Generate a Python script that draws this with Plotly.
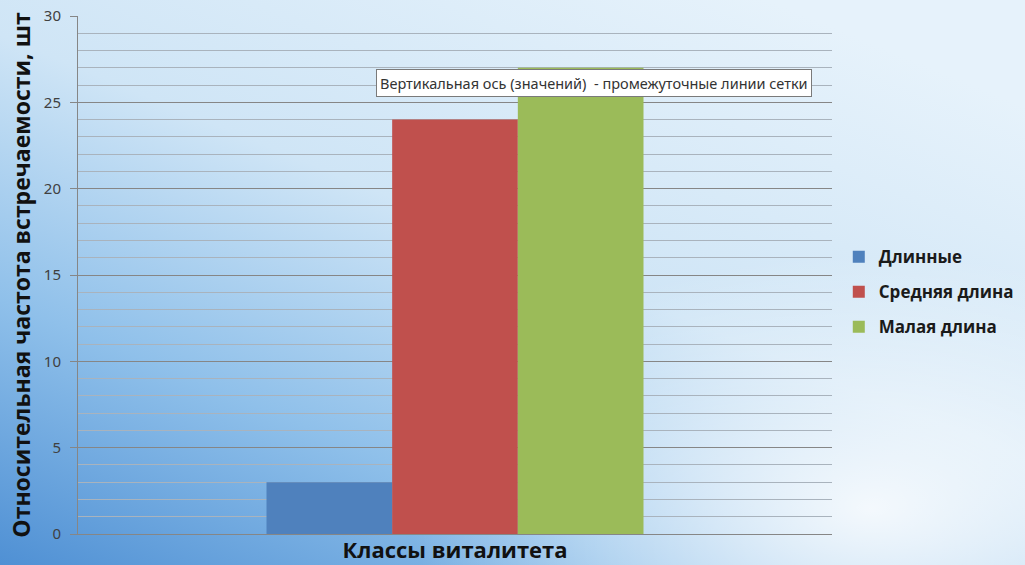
import base64
import plotly.graph_objects as go

categories = ["Классы виталитета"]
series_names = ["Длинные", "Средняя длина", "Малая длина"]
series_values = [[3], [24], [27]]
series_colors = ["#4f81bd", "#c0504d", "#9bbb59"]
y_tick_values = [0, 5, 10, 15, 20, 25, 30]

W, H = 1025, 565

svg = f'''<svg xmlns="http://www.w3.org/2000/svg" width="{W}" height="{H}" viewBox="0 0 {W} {H}">
<defs>
<linearGradient id="g" x1="0" y1="1" x2="0.75" y2="0">
<stop offset="0" stop-color="#4f90d4"/>
<stop offset="0.3" stop-color="#8fc0ea"/>
<stop offset="0.6" stop-color="#cfe5f6"/>
<stop offset="1" stop-color="#e6f2fb"/>
</linearGradient>
<radialGradient id="r" cx="0.85" cy="0.9" r="0.45">
<stop offset="0" stop-color="#ffffff" stop-opacity="0.85"/>
<stop offset="1" stop-color="#ffffff" stop-opacity="0"/>
</radialGradient>
</defs>
<rect width="{W}" height="{H}" fill="url(#g)"/>
<rect width="{W}" height="{H}" fill="url(#r)"/>
</svg>'''
bg_uri = "data:image/svg+xml;base64," + base64.b64encode(svg.encode()).decode()

fig = go.Figure()
for i, (name, vals, col) in enumerate(zip(series_names, series_values, series_colors)):
    fig.add_trace(go.Bar(
        x=categories, y=vals, name=name, marker=dict(color=col, line=dict(width=0)),
        legendgroup=f"g{i}",
    ))

fig.update_layout(
    width=W, height=H,
    margin=dict(l=78, r=193, t=16, b=31, autoexpand=False),
    paper_bgcolor="#dcecf8",
    plot_bgcolor="rgba(0,0,0,0)",
    barmode="group", bargap=0.5, bargroupgap=0,
    font=dict(family="Open Sans, sans-serif", color="#222"),
    showlegend=True,
    legend=dict(
        x=1.009, y=0.467, xanchor="left", yanchor="middle",
        font=dict(size=17, color="#1a1a1a", family="Open Sans, sans-serif", weight="bold"),
        tracegroupgap=10, bgcolor="rgba(0,0,0,0)", itemwidth=30,
    ),
    images=[dict(source=bg_uri, xref="paper", yref="paper", x=-78/754, y=1+16/518,
                 sizex=W/754, sizey=H/518, xanchor="left", yanchor="top",
                 sizing="stretch", layer="below")],
    annotations=[dict(
        text="Вертикальная ось (значений)  - промежуточные линии сетки",
        xref="paper", yref="paper", x=0.684, y=0.871, xanchor="center", yanchor="middle",
        showarrow=False,
        font=dict(size=14.5, color="#333", family="Noto Sans, sans-serif"),
        bgcolor="white", bordercolor="#7a7a7a", borderwidth=1, borderpad=3,
    )],
)

fig.update_xaxes(
    showticklabels=False, showgrid=False, zeroline=False,
    showline=True, linecolor="#868686", linewidth=1,
    title=dict(text="Классы виталитета", standoff=8,
               font=dict(size=22, color="#111", family="Open Sans, sans-serif", weight="bold")),
)
fig.update_yaxes(
    range=[0, 30], tickvals=y_tick_values,
    showline=True, linecolor="#868686", linewidth=1,
    ticks="outside", ticklen=7, tickcolor="#868686", ticklabelstandoff=6,
    tickfont=dict(size=15, color="#404040", family="Noto Sans, sans-serif"),
    showgrid=True, gridcolor="#868686", gridwidth=1,
    minor=dict(dtick=1, showgrid=True, gridcolor="#a9b3bd", gridwidth=1),
    zeroline=False,
    title=dict(text="Относительная частота встречаемости, шт", standoff=6,
               font=dict(size=23, color="#111", family="Open Sans, sans-serif", weight="bold")),
)

fig.write_html("out.html", config={"displayModeBar": False},
               post_script="document.body.style.margin='0';document.body.style.overflow='hidden';")
